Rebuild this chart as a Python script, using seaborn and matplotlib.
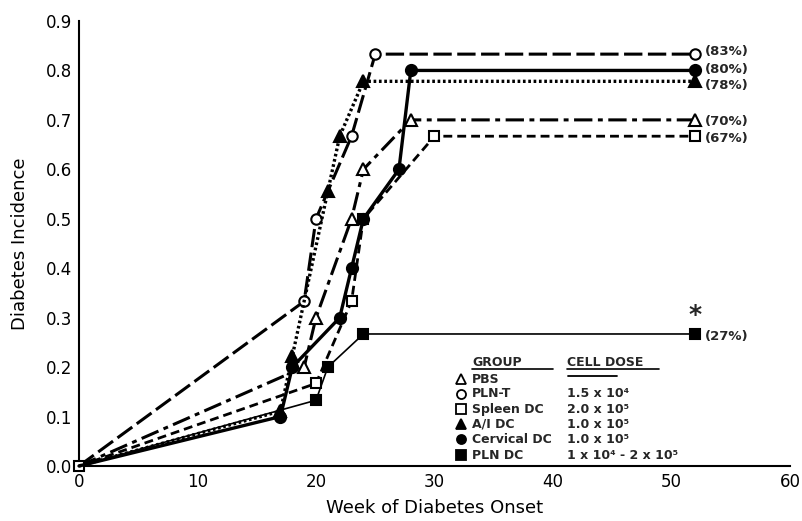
import matplotlib
matplotlib.use("Agg")
import matplotlib.pyplot as plt
import seaborn as sns
import numpy as np
import pandas as pd

# ---------------- data ----------------
groups = ["PBS", "PLN-T", "Spleen DC", "A/I DC", "Cervical DC", "PLN DC"]
doses = ["", "1.5 x 10\u2074", "2.0 x 10\u2075", "1.0 x 10\u2075",
         "1.0 x 10\u2075", "1 x 10\u2074 - 2 x 10\u2075"]

weeks_pbs = [0, 19, 20, 23, 24, 28, 52]
inc_pbs = [0.0, 0.2, 0.3, 0.5, 0.6, 0.7, 0.7]

weeks_plnt = [0, 19, 20, 23, 25, 52]
inc_plnt = [0.0, 0.333, 0.5, 0.667, 0.833, 0.833]

weeks_spleen = [0, 20, 23, 24, 30, 52]
inc_spleen = [0.0, 0.167, 0.333, 0.5, 0.667, 0.667]

weeks_ai = [0, 17, 18, 21, 22, 24, 52]
inc_ai = [0.0, 0.111, 0.222, 0.556, 0.667, 0.778, 0.778]

weeks_cerv = [0, 17, 18, 22, 23, 24, 27, 28, 52]
inc_cerv = [0.0, 0.1, 0.2, 0.3, 0.4, 0.5, 0.6, 0.8, 0.8]

weeks_plndc = [0, 20, 21, 24, 52]
inc_plndc = [0.0, 0.133, 0.2, 0.267, 0.267]

final_labels = ["(70%)", "(83%)", "(67%)", "(78%)", "(80%)", "(27%)"]

x_ticks = [0, 10, 20, 30, 40, 50, 60]
y_ticks = [0.0, 0.1, 0.2, 0.3, 0.4, 0.5, 0.6, 0.7, 0.8, 0.9]
y_tick_labels = ["0.0", "0.1", "0.2", "0.3", "0.4", "0.5", "0.6", "0.7", "0.8", "0.9"]

series_weeks = [weeks_pbs, weeks_plnt, weeks_spleen, weeks_ai, weeks_cerv, weeks_plndc]
series_inc = [inc_pbs, inc_plnt, inc_spleen, inc_ai, inc_cerv, inc_plndc]

# ---------------- styles ----------------
styles = [
    dict(marker="^", mfc="white", ls=(0, (6, 1.8, 1.6, 1.8)), lw=2.2, ms=8, origin=False, dy=-1.5),
    dict(marker="o", mfc="white", ls=(0, (6, 1.8)), lw=2.2, ms=7.5, origin=False, dy=2.2),
    dict(marker="s", mfc="white", ls=(0, (3.2, 1.8)), lw=2.0, ms=7, origin=True, dy=-1.5),
    dict(marker="^", mfc="black", ls=(0, (0.8, 0.8)), lw=2.4, ms=8, origin=False, dy=-3.3),
    dict(marker="o", mfc="black", ls="-", lw=2.4, ms=8, origin=False, dy=0.5),
    dict(marker="s", mfc="black", ls="-", lw=1.2, ms=7, origin=False, dy=-1.5),
]

sns.set_theme(style="white")
plt.rcParams["font.family"] = ["DejaVu Sans"]

fig = plt.figure(figsize=(8.03, 5.21), dpi=100)
ax = fig.add_axes([79 / 803, 55 / 521, 711 / 803, 445 / 521])

for g, w, v, st, lab in zip(groups, series_weeks, series_inc, styles, final_labels):
    df = pd.DataFrame({"week": w, "inc": v})
    sns.lineplot(data=df, x="week", y="inc", ax=ax, color="black",
                 linestyle=st["ls"], linewidth=st["lw"], marker=st["marker"],
                 markersize=st["ms"], markerfacecolor=st["mfc"],
                 markeredgecolor="black", markeredgewidth=1.5,
                 markevery=(slice(0, None) if st["origin"] else slice(1, None)),
                 errorbar=None, clip_on=False, zorder=3)
    ax.annotate(lab, (w[-1], v[-1]), xytext=(7, st["dy"]), textcoords="offset points",
                ha="left", va="center", fontsize=9.5, fontweight="semibold")
    if g == "PLN DC":
        ax.annotate("*", (w[-1], v[-1]), xytext=(0, 5), textcoords="offset points",
                    ha="center", va="bottom", fontsize=18, fontweight="bold")

ax.set_xlim(0, 60)
ax.set_ylim(0, 0.9)
ax.set_xticks(x_ticks)
ax.set_xticklabels([str(t) for t in x_ticks])
ax.set_yticks(y_ticks)
ax.set_yticklabels(y_tick_labels)
ax.tick_params(direction="in", length=10, width=1.5, labelsize=12, colors="black", pad=5)
for s in ["top", "right"]:
    ax.spines[s].set_visible(False)
for s in ["left", "bottom"]:
    ax.spines[s].set_color("black")
    ax.spines[s].set_linewidth(1.5)

ax.set_xlabel("Week of Diabetes Onset", fontsize=13, labelpad=6, color="black")
ax.set_ylabel("Diabetes Incidence", fontsize=13, labelpad=12, color="black")

# ---------------- legend block ----------------
tr = ax.transAxes
mx, tx, dx = 0.537, 0.553, 0.686
row_y = [0.1955, 0.162, 0.127, 0.0936, 0.0597, 0.0247]
ax.text(tx, 0.2315, "GROUP", transform=tr, fontsize=9, fontweight="bold", va="center")
ax.text(dx, 0.2315, "CELL DOSE", transform=tr, fontsize=9, fontweight="bold", va="center")
ax.plot([tx, 0.667], [0.219, 0.219], transform=tr, color="black", lw=1.2)
ax.plot([dx, 0.816], [0.219, 0.219], transform=tr, color="black", lw=1.2)
for g, d, st, yy in zip(groups, doses, styles, row_y):
    ax.plot([mx], [yy], transform=tr, linestyle="none", marker=st["marker"],
            markersize=6.5, markerfacecolor=st["mfc"], markeredgecolor="black",
            markeredgewidth=1.3, clip_on=False)
    ax.text(tx, yy, g, transform=tr, fontsize=9, fontweight="bold", va="center")
    if d:
        ax.text(dx, yy, d, transform=tr, fontsize=9, fontweight="bold", va="center")
    else:
        ax.plot([dx + 0.002, 0.757], [yy + 0.006, yy + 0.006], transform=tr,
                color="black", lw=1.3)

fig.savefig("out.png", dpi=100)
